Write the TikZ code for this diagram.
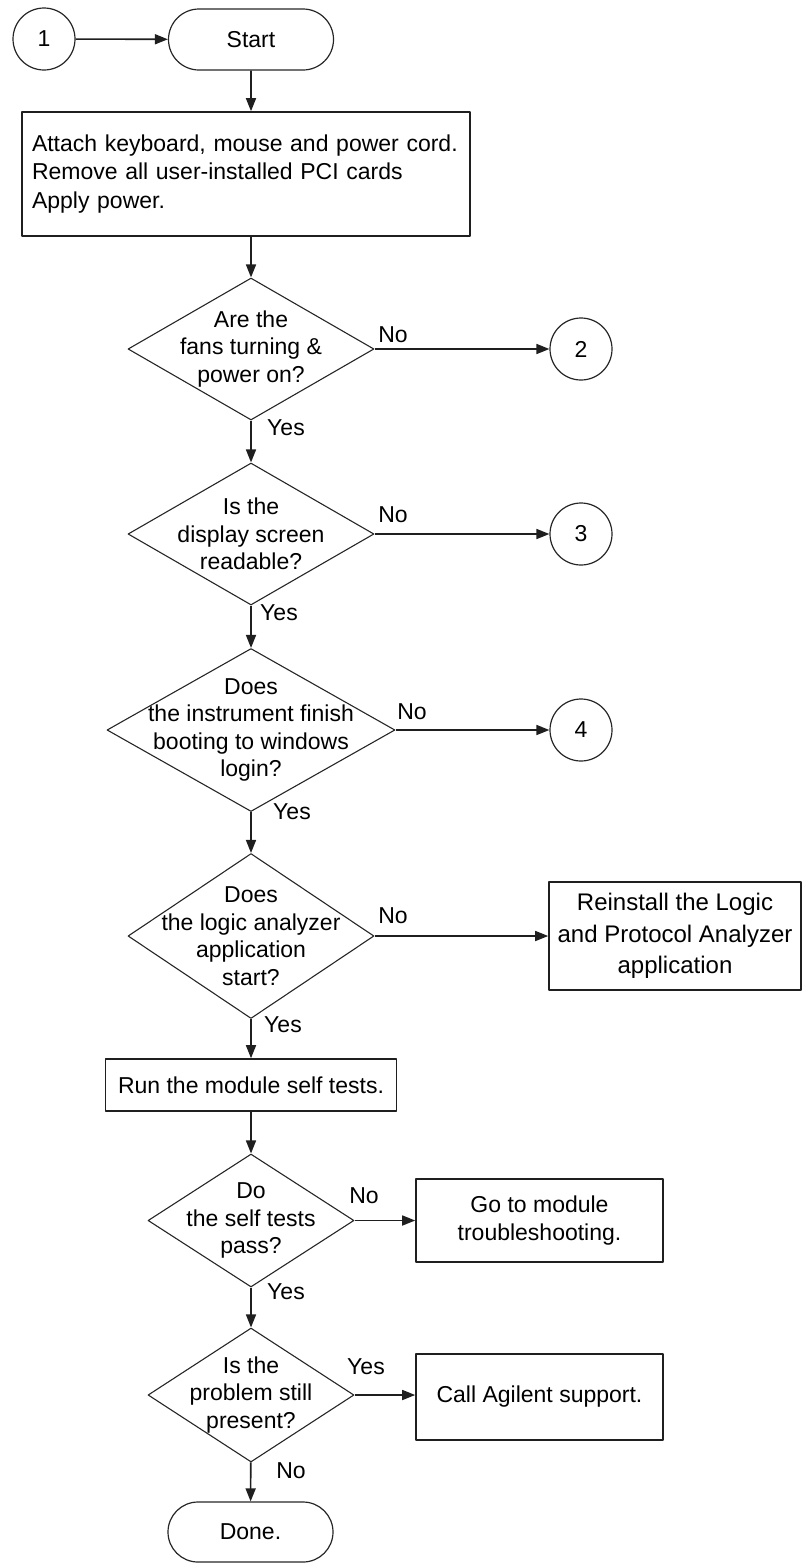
\documentclass[tikz,border=0pt]{standalone}
\usepackage{fontspec}
\setmainfont{Liberation Sans}
\usetikzlibrary{shapes.geometric, shapes.misc, arrows.meta}

\begin{document}
\begin{tikzpicture}[
  x=1pt, y=-1pt,
  font=\fontsize{23}{27.6}\selectfont,
  line join=round,
  >={Triangle[length=13pt, width=10pt]},
  flow/.style={->, line width=1.6pt, draw=black!88},
  box/.style={
    draw=black!88, line width=1.6pt, rectangle,
    align=center, inner sep=0pt
  },
  term/.style={
    draw=black!85, line width=1.2pt, rounded rectangle,
    minimum width=165pt, minimum height=61pt, inner sep=0pt
  },
  conn/.style={
    draw=black!85, line width=1.2pt, circle,
    minimum size=62pt, inner sep=0pt
  },
  decision/.style={draw=black!85, line width=1.1pt, diamond, inner sep=0pt},
  qtext/.style={align=center, inner sep=0pt},
  lbl/.style={inner sep=0pt}
]
\useasboundingbox (0,0) rectangle (803,1564);

% main column
\node[conn] (c1) at (44,39) {1};
\node[term] (start) at (251,39.5) {Start};
\node[box, minimum width=448pt, minimum height=124pt, text width=428pt,
      align=left, font=\fontsize{23}{28.5}\selectfont] (attach) at (246,174)
  {Attach keyboard, mouse and power cord.\\
   Remove all user-installed PCI cards\\
   Apply power.};
\node[decision, minimum width=246pt, minimum height=142pt,
      label={[qtext]center:{Are the\\fans turning \&\\power on?}}] (q1) at (251,349) {};
\node[decision, minimum width=246pt, minimum height=142pt,
      label={[qtext]center:{Is the\\display screen\\readable?}}] (q2) at (251,534) {};
\node[decision, minimum width=288pt, minimum height=163pt,
      label={[qtext]center:{Does\\the instrument finish\\booting to windows\\login?}}] (q3) at (251,730) {};
\node[decision, minimum width=246pt, minimum height=165pt,
      label={[qtext]center:{Does\\the logic analyzer\\application\\start?}}] (q4) at (251,936) {};
\node[box, minimum width=291pt, minimum height=52pt] (run) at (251,1085)
  {Run the module self tests.};
\node[decision, minimum width=206pt, minimum height=133pt,
      label={[qtext]center:{Do\\the self tests\\pass?}}] (q5) at (251,1220.5) {};
\node[decision, minimum width=206pt, minimum height=134pt,
      label={[qtext]center:{Is the\\problem still\\present?}}] (q6) at (251,1395) {};
\node[term, minimum height=60pt] (done) at (250.5,1532) {Done.};

% side exits
\node[conn] (c2) at (581,349) {2};
\node[conn] (c3) at (581,534) {3};
\node[conn] (c4) at (581,730) {4};
\node[box, minimum width=252pt, minimum height=108pt,
      font=\fontsize{24}{31.5}\selectfont] (reinstall) at (675,936)
  {Reinstall the Logic\\and Protocol Analyzer\\application};
\node[box, minimum width=247pt, minimum height=83pt] (goto) at (539.5,1220.5)
  {Go to module\\troubleshooting.};
\node[box, minimum width=247pt, minimum height=86pt] (call) at (539.5,1397)
  {Call Agilent support.};

% branch labels
\node[lbl] (no1) at (393,335) {No};
\node[lbl] (yes1) at (286,428) {Yes};
\node[lbl] (no2) at (393,515) {No};
\node[lbl] (yes2) at (279,613) {Yes};
\node[lbl] (no3) at (412,712) {No};
\node[lbl] (yes3) at (292,812) {Yes};
\node[lbl] (no4) at (393,916) {No};
\node[lbl] (yes4) at (283,1025) {Yes};
\node[lbl] (no5) at (364,1196) {No};
\node[lbl] (yes5) at (286,1292) {Yes};
\node[lbl] (yes6) at (366,1367) {Yes};
\node[lbl] (no6) at (291,1471) {No};

\draw[flow] (c1) -- (start);
\draw[flow] (start) -- (start |- attach.north);
\draw[flow] (attach.south -| q1) -- (q1);
\draw[flow] (q1) -- (c2);
\draw[flow] (q1) -- (q2);
\draw[flow] (q2) -- (c3);
\draw[flow] (q2) -- (q3);
\draw[flow] (q3) -- (c4);
\draw[flow] (q3) -- (q4);
\draw[flow] (q4) -- (reinstall);
\draw[flow] (q4) -- (run);
\draw[flow] (run) -- (q5);
\draw[flow] (q5) -- (goto);
\draw[flow] (q5) -- (q6);
\draw[flow] (q6.east) -- (q6.east -| call.west);
\draw[flow] (q6) -- (done);
\end{tikzpicture}
\end{document}
